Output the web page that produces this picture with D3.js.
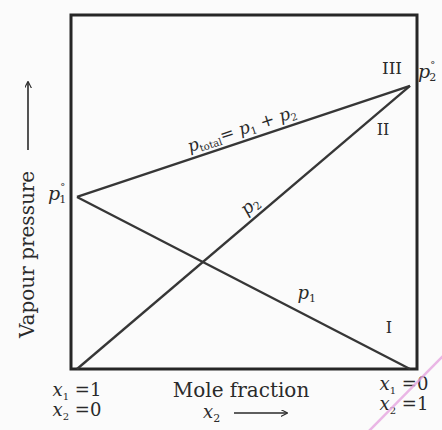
<!DOCTYPE html>
<html>
<head>
<meta charset="utf-8">
<script src="https://cdn.jsdelivr.net/npm/d3@7"></script>
<style>
  body { margin: 0; background: #fbfbfb; }
  svg { display: block; }
  text { font-family: "DejaVu Serif", serif; fill: #2a2a2a; }
</style>
</head>
<body>
<svg id="chart" width="442" height="430"></svg>
<script>
// mole fraction of component 2 at the two ends
var moleX2 = [0, 1];
// partial and total vapour pressures (fraction of frame height)
var pressure1 = [0.486, 0];
var pressure2 = [0, 0.80];
var pressureTotal = [0.486, 0.80];

var svg = d3.select("#chart");

var frame = {left: 71, top: 15, right: 417, bottom: 369};

var x = d3.scaleLinear().domain([0, 1]).range([77, 410]);
var y = d3.scaleLinear().domain([0, 1]).range([frame.bottom, frame.top]);

svg.append("defs").append("marker")
    .attr("id", "head")
    .attr("viewBox", "0 0 10 10")
    .attr("refX", 9).attr("refY", 5)
    .attr("markerWidth", 7).attr("markerHeight", 7)
    .attr("markerUnits", "userSpaceOnUse")
    .attr("orient", "auto")
  .append("path")
    .attr("d", "M0,0L10,5L0,10")
    .attr("fill", "none")
    .attr("stroke", "#2a2a2a")
    .attr("stroke-width", 1.6);

svg.append("rect")
    .attr("x", frame.left)
    .attr("y", frame.top)
    .attr("width", frame.right - frame.left)
    .attr("height", frame.bottom - frame.top)
    .attr("fill", "none")
    .attr("stroke", "#262626")
    .attr("stroke-width", 3);

var line = d3.line()
    .x(function(d) { return x(d[0]); })
    .y(function(d) { return y(d[1]); });

[pressure1, pressure2, pressureTotal].forEach(function(series) {
  svg.append("path")
      .datum(d3.zip(moleX2, series))
      .attr("d", line)
      .attr("fill", "none")
      .attr("stroke", "#363636")
      .attr("stroke-width", 2.3);
});

function angleOf(series) {
  var dx = x(moleX2[1]) - x(moleX2[0]);
  var dy = y(series[1]) - y(series[0]);
  return Math.atan2(dy, dx) * 180 / Math.PI;
}

// p_total label along the top line
var tx = x(0.5), ty = y(pressureTotal[0] + 0.5 * (pressureTotal[1] - pressureTotal[0])) - 7;
var tl = svg.append("text")
    .attr("transform", "translate(" + tx + "," + ty + ") rotate(" + angleOf(pressureTotal) + ")")
    .attr("text-anchor", "middle")
    .style("font-size", "17px");
tl.append("tspan").style("font-style", "italic").text("p");
tl.append("tspan").attr("dy", 3).style("font-size", "10px").text("total");
tl.append("tspan").attr("dy", -3).text("= ");
tl.append("tspan").style("font-style", "italic").text("p");
tl.append("tspan").attr("dy", 3).style("font-size", "10px").text("1");
tl.append("tspan").attr("dy", -3).text(" + ");
tl.append("tspan").style("font-style", "italic").text("p");
tl.append("tspan").attr("dy", 3).style("font-size", "10px").text("2");

// p2 label along the rising line
var p2x = x(0.53), p2y = y(pressure2[1] * 0.53) - 9;
var l2 = svg.append("text")
    .attr("transform", "translate(" + p2x + "," + p2y + ") rotate(" + angleOf(pressure2) + ")")
    .attr("text-anchor", "middle")
    .style("font-size", "18px");
l2.append("tspan").style("font-style", "italic").text("p");
l2.append("tspan").attr("dy", 3).style("font-size", "11px").text("2");

// p1 label on the falling line
var l1 = svg.append("text")
    .attr("x", x(0.69))
    .attr("y", y(pressure1[0] * (1 - 0.69)) - 17)
    .attr("text-anchor", "middle")
    .style("font-size", "18px");
l1.append("tspan").style("font-style", "italic").text("p");
l1.append("tspan").attr("dy", 3).style("font-size", "11px").text("1");

// region numerals
svg.append("text").attr("x", 392).attr("y", 74).attr("text-anchor", "middle")
    .style("font-size", "17px").text("III");
svg.append("text").attr("x", 383).attr("y", 135).attr("text-anchor", "middle")
    .style("font-size", "16px").text("II");
svg.append("text").attr("x", 389).attr("y", 333).attr("text-anchor", "middle")
    .style("font-size", "16px").text("I");

// pure-component pressures
function pureLabel(px, py, sub) {
  var t = svg.append("text").attr("x", px).attr("y", py).style("font-size", "19px");
  t.append("tspan").style("font-style", "italic").text("p");
  t.append("tspan").attr("dy", -10).style("font-size", "10px").text("°");
  t.append("tspan").attr("dx", -6).attr("dy", 13).style("font-size", "11px").text(sub);
}
pureLabel(48, y(pressure1[0]) + 3, "1");
pureLabel(418, y(pressure2[1]) - 8, "2");

// y axis title with arrow
svg.append("text")
    .attr("transform", "translate(34,338) rotate(-90)")
    .attr("text-anchor", "start")
    .style("font-size", "20px")
    .text("Vapour pressure");
svg.append("line")
    .attr("x1", 28).attr("y1", 150).attr("x2", 28).attr("y2", 82)
    .attr("stroke", "#2a2a2a").attr("stroke-width", 1.6)
    .attr("marker-end", "url(#head)");

// x end labels
function endLabel(px, py, sub, val) {
  var t = svg.append("text").attr("x", px).attr("y", py).attr("text-anchor", "middle")
      .style("font-size", "18px");
  t.append("tspan").style("font-style", "italic").text("x");
  t.append("tspan").attr("dy", 4).style("font-size", "10px").text(sub);
  t.append("tspan").attr("dy", -4).text(" =" + val);
}
endLabel(x(0), 396, "1", "1");
endLabel(x(0), 416, "2", "0");
endLabel(x(1) - 6, 390, "1", "0");
endLabel(x(1) - 6, 410, "2", "1");

svg.append("text").attr("x", 241).attr("y", 397).attr("text-anchor", "middle")
    .style("font-size", "20px").text("Mole fraction");

var xt = svg.append("text").attr("x", 203).attr("y", 418).attr("text-anchor", "start")
    .style("font-size", "18px");
xt.append("tspan").style("font-style", "italic").text("x");
xt.append("tspan").attr("dy", 4).style("font-size", "11px").text("2");
svg.append("line")
    .attr("x1", 234).attr("y1", 413).attr("x2", 287).attr("y2", 413)
    .attr("stroke", "#2a2a2a").attr("stroke-width", 1.6)
    .attr("marker-end", "url(#head)");

// faint pink pen stroke in the corner of the scan
svg.append("line")
    .attr("x1", 368).attr("y1", 432).attr("x2", 444).attr("y2", 355)
    .attr("stroke", "#e6a6e0").attr("stroke-width", 2.5).attr("opacity", 0.8);
</script>
</body>
</html>
